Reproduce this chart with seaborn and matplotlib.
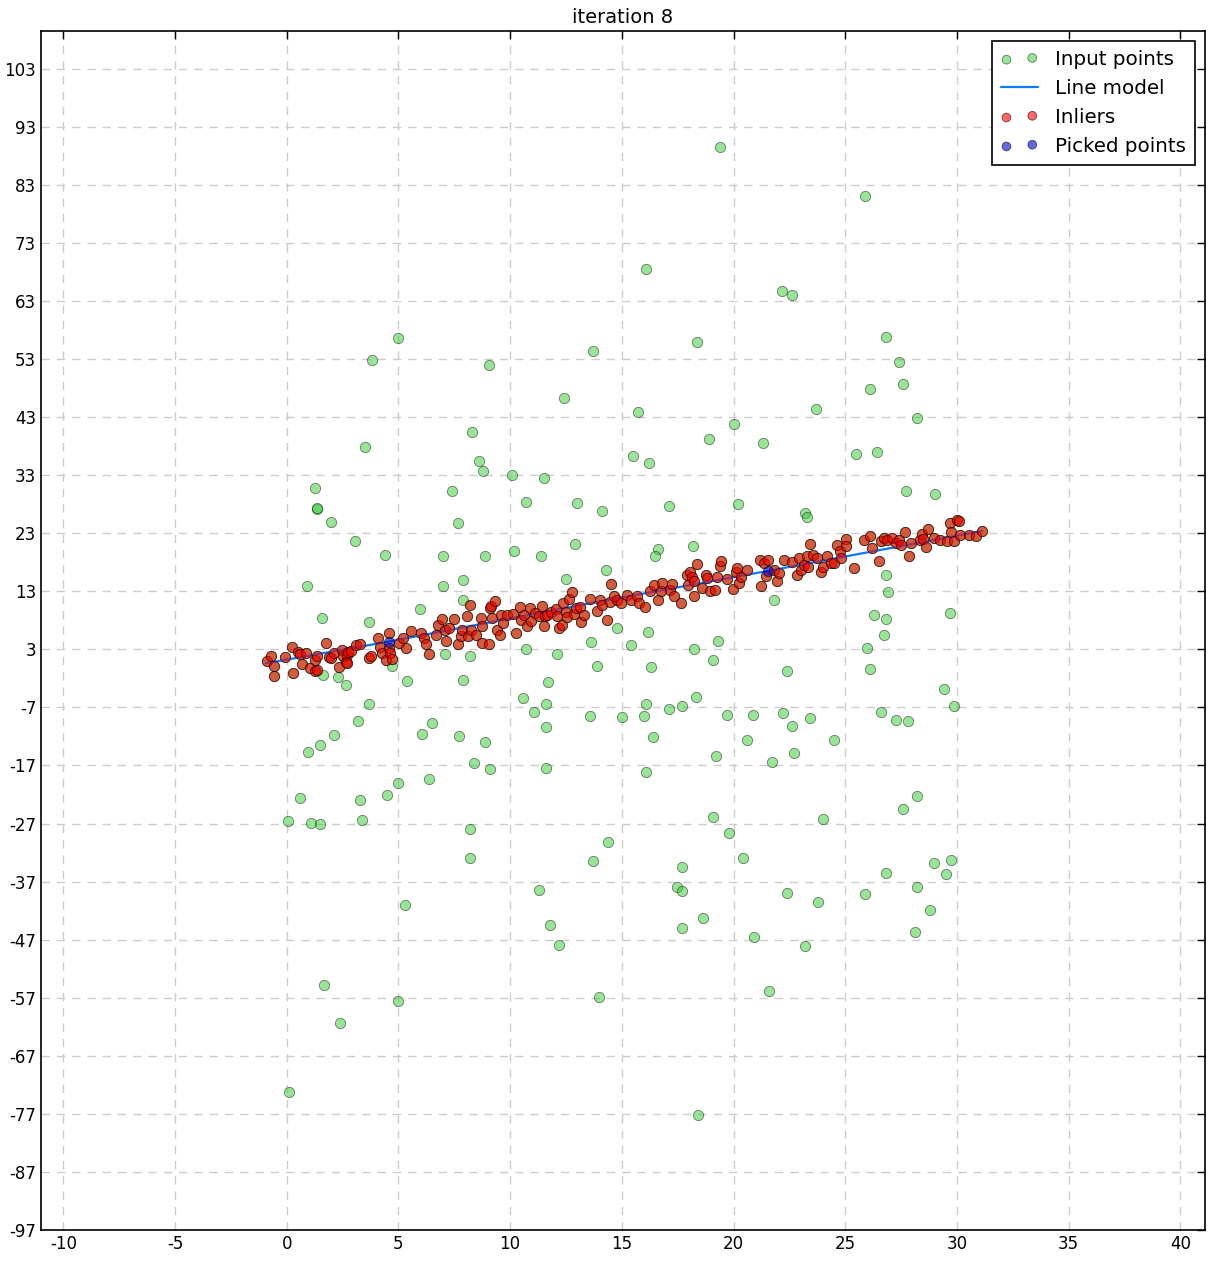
import matplotlib
matplotlib.use("Agg")
import matplotlib.pyplot as plt
import seaborn as sns
import pandas as pd

# ---------------- data ----------------
outlier_x = [19.37, 25.9, 16.1, 22.15, 22.6, 4.97, 26.8, 13.7, 18.35, 3.8, 9.04, 27.4, 27.6, 26.1, 12.4,
             15.7, 28.2, 23.7, 20.0, 8.28, 18.9, 21.3, 3.5, 26.4, 25.5, 15.5, 8.6, 16.2, 8.8, 10.07,
             11.5, 1.25, 7.4, 27.7, 29.0, 10.7, 13.0, 20.2, 17.1, 1.34, 1.36, 14.1, 23.2, 23.3, 1.97,
             7.65, 3.04, 12.9, 16.6, 18.2, 4.4, 7.0, 8.86, 10.16, 11.36, 16.5, 12.5, 7.9, 14.3, 26.8,
             0.9, 7.0, 26.9, 21.8, 7.9, 1.57, 5.95, 26.3, 29.7, 26.8, 3.7, 14.8, 16.15, 26.75, 13.6,
             19.3, 15.4, 10.7, 18.25, 25.95, 7.1, 8.2, 12.1, 4.7, 13.9, 1.6, 2.3, 2.64, 5.37, 7.9,
             11.7, 10.56, 11.6, 11.05, 3.7, 3.2, 6.5, 13.56, 15.0, 11.6, 2.1, 6.04, 7.7, 8.86, 16.3,
             19.1, 26.1, 22.4, 29.4, 29.85, 16.06, 16.0, 17.1, 17.7, 18.3, 19.7, 20.85, 22.2, 23.4, 22.6,
             26.6, 27.25, 27.8, 16.4, 20.6, 24.5,
             0.94, 1.5, 19.2, 22.7, 21.7, 8.4, 9.1, 11.6, 16.1, 6.35, 4.97, 4.5, 0.58, 3.27, 27.6,
             28.2, 0.04, 1.1, 1.5, 3.36, 19.1, 24.0, 8.2, 19.8, 14.4, 8.2, 20.4, 13.7, 29.75, 28.99,
             17.7, 26.8, 29.5, 17.45, 28.2, 17.7, 11.3, 22.4, 25.9, 23.8, 5.3, 28.8, 18.65, 11.8, 17.7,
             28.1, 20.9, 12.2, 23.2, 1.66, 21.6, 13.96, 5.0, 2.37, 0.09, 18.4]
outlier_y = [89.6, 81.0, 68.5, 64.8, 64.1, 56.7, 56.8, 54.4, 56.0, 52.9, 52.0, 52.5, 48.7, 47.9, 46.3,
             43.9, 42.9, 44.4, 41.8, 40.5, 39.3, 38.6, 37.9, 37.0, 36.7, 36.3, 35.5, 35.1, 33.75, 33.1,
             32.5, 30.8, 30.3, 30.3, 29.8, 28.4, 28.2, 28.1, 27.7, 27.2, 27.3, 26.9, 26.5, 25.8, 25.0,
             24.8, 21.7, 21.2, 20.3, 20.8, 19.3, 19.1, 19.1, 20.0, 19.1, 19.1, 15.1, 15.0, 16.7, 15.8,
             13.9, 13.9, 12.9, 11.5, 11.5, 8.4, 10.0, 8.9, 9.3, 8.3, 7.7, 6.7, 6.0, 5.5, 4.3,
             4.5, 3.7, 3.0, 3.0, 3.3, 2.2, 1.9, 2.2, 0.2, 0.2, -1.4, -1.7, -3.1, -2.4, -2.3,
             -2.6, -5.4, -6.4, -7.8, -6.4, -9.3, -9.7, -8.5, -8.6, -10.4, -11.7, -11.6, -11.9, -12.9, 0.0,
             1.2, -0.4, -0.7, -3.8, -6.7, -6.4, -8.5, -7.3, -6.7, -5.2, -8.3, -8.3, -7.9, -8.8, -10.2,
             -7.8, -9.1, -9.3, -12.1, -12.6, -12.6,
             -14.7, -13.5, -15.3, -14.8, -16.4, -16.5, -17.6, -17.4, -18.1, -19.3, -20.0, -22.1, -22.6, -22.9, -24.5,
             -22.2, -26.5, -26.9, -27.1, -26.4, -25.9, -26.2, -27.9, -28.6, -30.2, -32.9, -32.9, -33.4, -33.3, -33.8,
             -34.5, -35.5, -35.7, -37.9, -37.9, -38.7, -38.4, -38.9, -39.1, -40.5, -41.0, -41.9, -43.3, -44.5, -45.0,
             -45.7, -46.5, -47.9, -48.1, -54.8, -55.8, -56.9, -57.6, -61.3, -73.2, -77.2]

inlier_x = [-0.90, -0.72, -0.57, -0.57, -0.07, 0.22, 0.28, 0.51, 0.60, 0.67, 0.88, 1.04, 1.25, 1.25, 1.34,
            1.37, 1.76, 1.89, 1.97, 2.12, 2.34, 2.49, 2.52, 2.64, 2.71, 2.74, 2.68, 2.86, 3.09, 3.28,
            3.68, 3.79, 4.09, 4.18, 4.28, 4.43, 4.58, 4.58, 4.62, 4.73, 5.03, 5.20, 5.35, 5.55, 5.99,
            6.14, 6.25, 6.38, 6.70, 6.79, 6.95, 7.07, 7.13, 7.26, 7.49, 7.67, 7.79, 7.86, 8.05, 8.13,
            8.19, 8.23, 8.47, 8.68, 8.74, 8.75, 9.05, 9.10, 9.13, 9.20, 9.31, 9.40, 9.53, 9.58, 9.66,
            9.84, 10.11, 10.26, 10.44, 10.47, 10.62, 10.77, 10.89, 10.95, 11.11, 11.29, 11.44, 11.51, 11.54, 11.66,
            11.81, 12.04, 12.11, 12.19, 12.30, 12.38, 12.48, 12.63, 12.78, 12.56, 12.86, 12.93, 13.12, 13.18, 13.30,
            13.57, 13.90, 14.02, 14.12, 14.32, 14.47, 14.53, 14.65, 14.79, 14.94, 15.24, 15.39, 15.69, 15.76,
            16.02, 16.28, 16.43, 16.61, 16.73, 16.81, 17.15, 17.25, 17.33, 17.63, 17.90, 17.96, 18.07, 18.15, 18.22,
            18.25, 18.37, 18.60, 18.75, 18.82, 18.94, 19.19, 19.24, 19.39, 19.45, 19.72, 19.98, 20.09, 20.16, 20.24,
            20.31, 20.61, 21.18, 21.24, 21.36, 21.43, 21.53, 21.80, 21.95, 22.03, 22.25, 22.62, 22.82, 22.94, 23.03,
            23.15, 23.29, 23.32, 23.44, 23.56, 23.74, 23.92, 24.01, 24.19, 24.34, 24.49, 24.64, 24.76, 24.82, 25.01,
            25.05, 25.38, 25.83, 26.10, 26.20, 26.50, 26.61, 26.72, 26.87, 27.10, 27.25, 27.40, 27.50, 27.65, 27.84,
            27.92, 28.36, 28.44, 28.48, 28.63, 28.71, 28.99, 29.26, 29.53, 29.68, 29.71, 29.86, 29.98, 30.08, 30.15,
            30.53, 30.83, 31.14]
inlier_y = [1.08, 1.94, 0.05, -1.56, 1.65, 3.49, -1.04, 2.52, 2.23, 0.45, 2.46, -0.24, -0.81, 1.20, 1.94,
            -0.53, 4.07, 1.65, 1.48, 2.34, -0.01, 2.92, 1.94, 0.91, 2.06, 2.63, 0.62, 2.80, 3.78, 3.95,
            1.48, 1.94, 4.93, 3.49, 2.34, 1.20, 5.90, 3.21, 2.34, 1.37, 4.18, 4.93, 3.21, 6.08, 5.90,
            4.93, 3.89, 2.23, 5.45, 7.23, 8.20, 6.36, 4.41, 6.65, 8.20, 3.95, 5.22, 6.36, 8.77, 5.22,
            10.56, 6.36, 5.45, 8.32, 6.94, 4.18, 3.95, 10.10, 10.50, 8.37, 11.36, 6.36, 5.45, 8.95, 7.51,
            8.95, 9.06, 5.85, 10.38, 8.09, 8.95, 6.94, 10.21, 7.97, 9.23, 8.77, 10.50, 7.05, 8.77, 8.95,
            9.52, 9.92, 8.77, 6.65, 7.23, 10.96, 9.52, 11.65, 12.85, 8.66, 9.12, 10.10, 10.38, 7.80, 8.95,
            11.76, 9.69, 11.53, 10.67, 8.09, 11.24, 14.29, 12.11, 11.53, 10.96, 12.39, 11.53, 12.11, 10.96,
            10.38, 12.97, 14.12, 11.53, 12.97, 14.40, 13.25, 14.23, 12.11, 10.96, 15.84, 14.12, 16.24, 15.55, 12.22,
            14.86, 17.73, 13.54, 15.84, 15.26, 12.97, 13.25, 15.44, 17.39, 18.25, 15.09, 13.43, 16.41, 16.99, 14.40,
            15.55, 16.70, 18.31, 13.94, 17.85, 15.67, 18.31, 16.70, 14.69, 16.13, 18.42, 18.13, 15.84, 18.71, 16.70,
            17.56, 19.00, 17.27, 21.18, 19.28, 18.71, 16.24, 17.16, 19.00, 17.85, 17.96, 21.01, 19.86, 18.71, 21.98,
            20.72, 16.99, 21.87, 22.44, 20.43, 18.25, 21.58, 22.15, 21.87, 22.15, 21.29, 21.87, 21.01, 23.13, 19.11,
            21.29, 21.87, 22.90, 21.98, 20.60, 23.76, 22.15, 21.87, 21.58, 24.74, 23.30, 21.58, 25.20, 25.03, 22.73,
            22.73, 22.56, 23.36]

picked_x = [4.57, 21.52]
picked_y = [4.3, 16.5]

line_x = [-0.94, 4.58, 13.6, 21.52, 31.14]
line_y = [0.6, 4.35, 10.96, 16.5, 23.4]

x_ticks = list(range(-10, 41, 5))
y_ticks = list(range(-97, 104, 10))

# ---------------- styling ----------------
sns.set_theme(style="white")
plt.rcParams['font.family'] = ['DejaVu Sans']
plt.rcParams.update({
    "xtick.direction": "in", "ytick.direction": "in",
    "xtick.top": True, "ytick.right": True,
    "xtick.major.size": 6, "ytick.major.size": 6,
    "xtick.major.width": 1, "ytick.major.width": 1,
    "xtick.color": "black", "ytick.color": "black",
    "xtick.labelcolor": "black", "ytick.labelcolor": "black",
    "text.color": "black", "axes.labelcolor": "black",
    "axes.edgecolor": "black", "axes.linewidth": 1.2,
    "axes.unicode_minus": False,
})

fig = plt.figure(figsize=(12.27, 12.71), dpi=100)
ax = fig.add_axes([41 / 1227, 41 / 1271, 1164 / 1227, 1199 / 1271])

all_df = pd.DataFrame({"x": outlier_x + inlier_x, "y": outlier_y + inlier_y})
in_df = pd.DataFrame({"x": inlier_x, "y": inlier_y})
pk_df = pd.DataFrame({"x": picked_x, "y": picked_y})
ln_df = pd.DataFrame({"x": line_x, "y": line_y})

sns.scatterplot(data=all_df, x="x", y="y", ax=ax, color="limegreen", alpha=0.5, s=55,
                edgecolor="black", linewidth=0.6, label="Input points", zorder=3)
sns.lineplot(data=ln_df, x="x", y="y", ax=ax, color="#0a7cff", linewidth=1.6, sort=False,
             estimator=None, label="Line model", zorder=4)
sns.scatterplot(data=in_df, x="x", y="y", ax=ax, color="red", alpha=0.6, s=55,
                edgecolor="black", linewidth=0.6, label="Inliers", zorder=5)
sns.scatterplot(data=pk_df, x="x", y="y", ax=ax, color="#0000cc", alpha=0.6, s=55,
                edgecolor="black", linewidth=0.6, label="Picked points", zorder=6)

ax.set_xlim(-11, 41.1)
ax.set_ylim(-97, 109.5)
ax.set_xticks(x_ticks)
ax.set_yticks(y_ticks)
ax.tick_params(labelsize=12, labelcolor="black")
ax.set_xlabel("")
ax.set_ylabel("")
ax.grid(True, color="#cccccc", linestyle=(0, (6, 5)), linewidth=1.0)
ax.set_axisbelow(True)
ax.set_title("iteration 8", fontsize=14, color="black")

leg = ax.legend(loc="upper right", scatterpoints=2, markerscale=0.85, fontsize=14.3,
                fancybox=False, framealpha=1, edgecolor="black", borderaxespad=0.5,
                handlelength=1.9, handletextpad=0.85, labelspacing=0.5, borderpad=0.45,
                labelcolor="black")
leg.get_frame().set_linewidth(1.2)

fig.savefig("out.png", dpi=100)
